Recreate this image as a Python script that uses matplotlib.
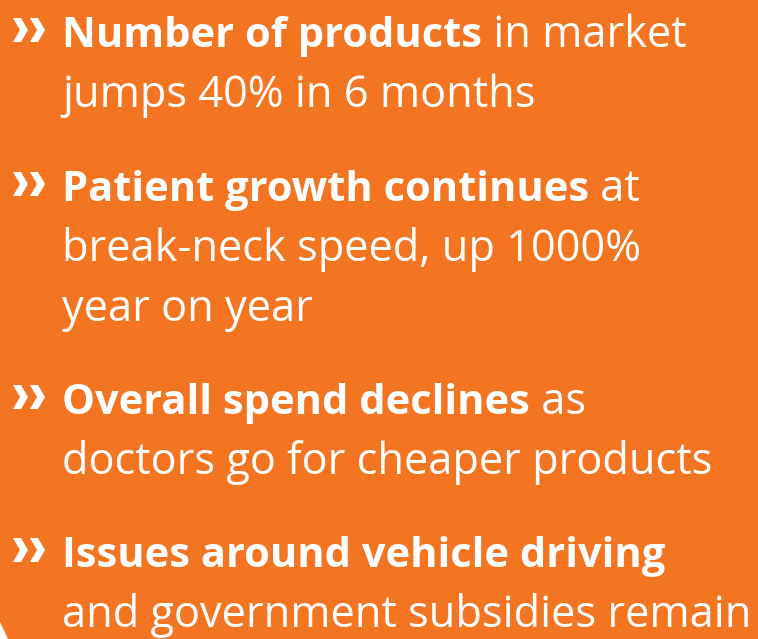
import matplotlib
matplotlib.use("Agg")
import matplotlib.pyplot as plt
from matplotlib.patches import Polygon

# ---- content ----
bold_heads = ["Number of products", "Patient growth continues",
              "Overall spend declines", "Issues around vehicle driving"]
head_tails = [" in market", " at", " as", ""]
body_lines = [["jumps 40% in 6 months"],
              ["break-neck speed, up 1000%", "year on year"],
              ["doctors go for cheaper products"],
              ["and government subsidies remain"]]

BG = "#F37421"
W, H = 758, 639
FONT = "Open Sans"
FS_B = 30
FS_R = 31.2

fig = plt.figure(figsize=(W / 100, H / 100), dpi=100)
fig.patch.set_facecolor(BG)

# small white corner at bottom-left
fig.patches.append(Polygon([(0, 0), (0, 17 / H), (8 / W, 0)], closed=True,
                           transform=fig.transFigure, facecolor="white",
                           edgecolor="none"))

def fx(px):
    return px / W

def fy(py):
    return 1 - py / H

def chevrons(x0, base):
    # two chevron arrows, drawn in pixel space
    h = 24
    w = 15
    t = 8
    for dx in (0, 17):
        x = x0 + dx
        top = base - h
        mid = base - h / 2
        pts = [(x, top), (x + t, top), (x + w, mid),
               (x + t, base), (x, base), (x + w - t, mid)]
        fig.patches.append(Polygon([(fx(a), fy(b)) for a, b in pts], closed=True,
                                   transform=fig.transFigure, facecolor="white",
                                   edgecolor="none"))

group_base = [47, 201, 414, 567]
line_gap = 60
X_TEXT = 62

renderer = fig.canvas.get_renderer()
for i, (hd, tl, body) in enumerate(zip(bold_heads, head_tails, body_lines)):
    b = group_base[i]
    chevrons(13, b - 5)
    t1 = fig.text(fx(X_TEXT), fy(b), hd, fontsize=FS_B, fontweight="bold",
                  family=FONT, color="white", va="baseline", ha="left")
    if tl:
        ext = t1.get_window_extent(renderer=renderer)
        fig.text(ext.x1 / W, fy(b), tl, fontsize=FS_R, fontweight="normal",
                 family=FONT, color="white", va="baseline", ha="left")
    for j, ln in enumerate(body):
        fig.text(fx(X_TEXT), fy(b + line_gap * (j + 1)), ln, fontsize=FS_R,
                 fontweight="normal", family=FONT, color="white",
                 va="baseline", ha="left")

fig.savefig("out.png", dpi=100, facecolor=BG)
